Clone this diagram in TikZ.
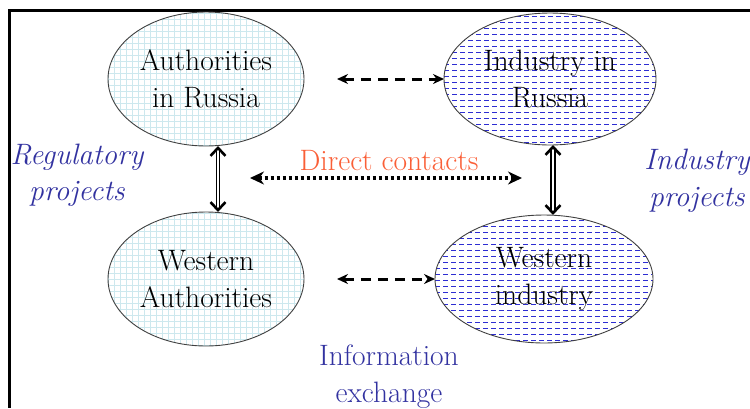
\documentclass[tikz,border=0pt]{standalone}
\usetikzlibrary{positioning, shapes.geometric, arrows.meta}
\definecolor{labelblue}{RGB}{50,50,160}
\definecolor{contactred}{RGB}{250,95,55}
\definecolor{gridcyan}{RGB}{205,232,238}
\definecolor{hatchblue}{RGB}{45,45,210}

\begin{document}
\begin{tikzpicture}[x=1pt, y=1pt,
    oval/.style={ellipse, draw=black!75, line width=0.9pt, inner sep=0pt, outer sep=0pt, align=center, font=\fontsize{29.5}{37}\selectfont},
    authority/.style={oval, minimum width=196pt, minimum height=134pt, path picture={
        \foreach \k in {0,...,40} {
            \draw[gridcyan, line width=0.5pt] ([xshift=\k*6pt+0.5pt]path picture bounding box.south west) -- ([xshift=\k*6pt+0.5pt]path picture bounding box.north west);
            \draw[gridcyan, line width=0.5pt] ([yshift=\k*6pt+0.5pt]path picture bounding box.south west) -- ([yshift=\k*6pt+0.5pt]path picture bounding box.south east);
        }}},
    industry/.style={oval, path picture={
        \foreach \k in {0,...,24}
            \draw[hatchblue, line width=1pt, dash pattern=on 5pt off 3pt] ([yshift=\k*6pt+2.5pt]path picture bounding box.south west) -- ([yshift=\k*6pt+2.5pt]path picture bounding box.south east);
        }},
    note/.style={text=labelblue, inner sep=0pt, align=center, font=\fontsize{29.5}{37}\selectfont},
    link/.style={{Stealth[length=11pt,width=10pt]}-{Stealth[length=11pt,width=10pt]}, dash pattern=on 10pt off 7pt, line width=3pt},
    bond/.style={double, double distance=1.8pt, line width=1pt, {Straight Barb[length=8pt,width=15pt,line width=2.6pt]}-{Straight Barb[length=8pt,width=15pt,line width=2.6pt]}},
    contact/.style={{Stealth[length=14pt,width=13pt]}-{Stealth[length=14pt,width=13pt]}, dash pattern=on 3.5pt off 2.5pt, line width=3.5pt}
]
\useasboundingbox (0,0) rectangle (750,-408);
\draw[line width=3pt] (750,-10) -- (9.5,-10) -- (9.5,-408);

\node[authority] (aurus) at (206,-79) {Authorities\\in Russia};
\node[industry, minimum width=212pt, minimum height=132pt, right=140pt of aurus] (indrus) {Industry in\\Russia};
\node[authority, below=66pt of aurus] (wauth) {Western\\Authorities};
\node[industry, minimum width=218pt, minimum height=128pt, right=131pt of wauth] (wind) {Western\\industry};

\node[note, font=\fontsize{29.5}{36}\selectfont\itshape] (reg) at (77,-175) {Regulatory\\projects};
\node[note, font=\fontsize{29.5}{37}\selectfont\itshape] (indproj) at (697,-181) {Industry\\projects};
\node[note, text=contactred] (direct) at (389,-161) {Direct contacts};
\node[note] (info) at (389,-377) {Information\\exchange};

\coordinate (dcl) at (250,-178);
\coordinate (dcr) at (522,-178);

\draw[link, shorten <=33pt] (aurus) -- (indrus);
\draw[link, shorten <=33pt] (wauth) -- (wind);
\draw[bond] ([xshift=12pt]aurus.south) -- ([xshift=12pt]wauth.north);
\draw[bond, line width=1.6pt, double distance=2pt] ([xshift=3pt]indrus.south) -- ([xshift=3pt]indrus.south |- wind.north);
\draw[contact] (dcl) -- (dcr);
\end{tikzpicture}
\end{document}
